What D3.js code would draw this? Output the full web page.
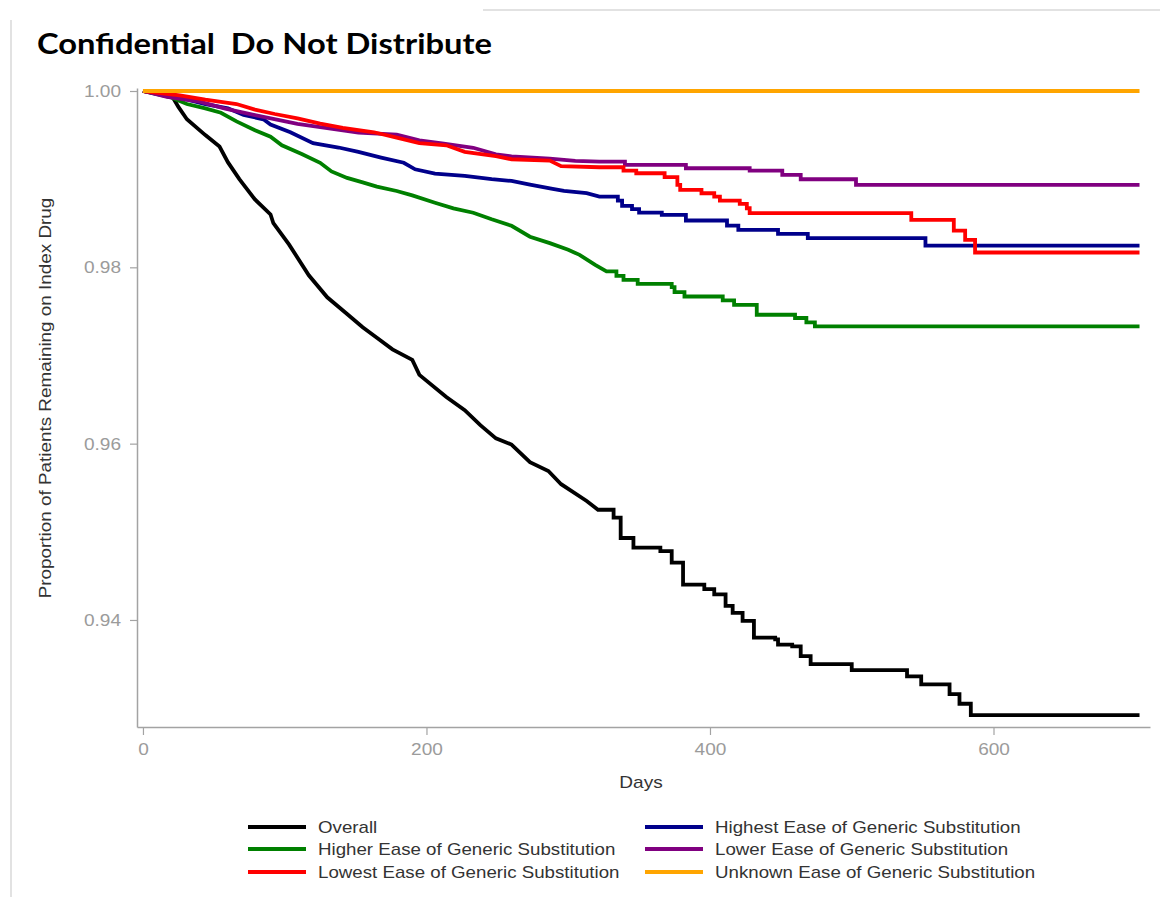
<!DOCTYPE html>
<html>
<head>
<meta charset="utf-8">
<script src="https://cdn.jsdelivr.net/npm/d3@7"></script>
<style>
  body { margin: 0; background: #fff; }
  svg { display: block; }
</style>
</head>
<body>
<svg id="chart" width="1160" height="897"></svg>
<script>
"use strict";

// Kaplan-Meier style curves, [day, proportion]
const overall = [[0,1.0000],[21,0.9993],[25,0.9982],[31,0.9968],[44,0.9950],[54,0.9937],[60,0.9919],[68,0.9900],[79,0.9877],[90,0.9860],[92,0.9850],[103,0.9826],[117,0.9791],[130,0.9766],[144,0.9747],[155,0.9732],[165,0.9720],[176,0.9707],[190,0.9695],[195,0.9678],[214,0.9653],[227,0.9638],[238,0.9621],[249,0.9606],[260,0.9599],[273,0.9579],[286,0.9569],[295,0.9554],[313,0.9535],[321,0.9525],[332,0.9516],[337,0.9493],[346,0.9482],[365,0.9478],[373,0.9465],[381,0.9440],[396,0.9435],[403,0.9429],[411,0.9416],[416,0.9408],[423,0.9399],[431,0.9380],[446,0.9378],[448,0.9372],[458,0.9370],[464,0.9359],[471,0.9350],[500,0.9343],[539,0.9336],[549,0.9327],[569,0.9316],[576,0.9305],[584,0.9292],[703,0.9292]];

const highest = [[0,1],[23,0.99936],[44,0.99852],[60,0.99803],[71,0.99729],[85,0.99679],[90,0.99620],[104,0.99531],[120,0.99408],[138,0.99359],[152,0.99310],[168,0.99245],[184,0.99186],[192,0.99112],[206,0.99063],[227,0.99038],[246,0.99000],[260,0.98980],[273,0.98939],[289,0.98890],[297,0.98866],[313,0.98841],[322,0.98803],[335,0.98757],[338,0.98697],[345,0.98659],[350,0.98621],[366,0.98595],[383,0.98531],[412,0.98474],[420,0.98425],[448,0.98380],[469,0.98331],[552,0.98247],[703,0.98247]];

const higher = [[0,1],[20,0.99926],[31,0.99852],[44,0.99803],[55,0.99753],[66,0.99655],[79,0.99556],[90,0.99482],[98,0.99384],[112,0.99285],[125,0.99186],[133,0.99088],[144,0.99014],[155,0.98964],[165,0.98915],[179,0.98866],[190,0.98816],[206,0.98732],[219,0.98668],[233,0.98619],[246,0.98545],[260,0.98471],[273,0.98347],[287,0.98274],[300,0.98200],[308,0.98141],[319,0.98027],[327,0.97953],[334,0.97904],[339,0.97858],[349,0.97813],[373,0.97775],[375,0.97719],[382,0.97669],[409,0.97624],[417,0.97575],[433,0.97462],[460,0.97425],[468,0.97375],[474,0.97330],[703,0.97330]];

const lower = [[0,1],[17,0.99933],[40,0.99880],[58,0.99800],[79,0.99726],[109,0.99628],[130,0.99580],[152,0.99529],[179,0.99504],[195,0.99440],[211,0.99406],[233,0.99356],[249,0.99282],[260,0.99258],[287,0.99233],[305,0.99208],[322,0.99199],[340,0.99161],[383,0.99124],[428,0.99097],[451,0.99048],[464,0.98999],[503,0.98935],[703,0.98935]];

const lowest = [[0,1],[26,0.99951],[44,0.99901],[66,0.99852],[79,0.99788],[93,0.99739],[109,0.99689],[125,0.99630],[141,0.99581],[163,0.99532],[179,0.99472],[195,0.99408],[214,0.99384],[227,0.99310],[249,0.99260],[260,0.99226],[287,0.99211],[295,0.99147],[322,0.99135],[339,0.99097],[348,0.99067],[368,0.99022],[377,0.98935],[379,0.98878],[394,0.98840],[403,0.98803],[407,0.98757],[421,0.98719],[426,0.98670],[428,0.98614],[542,0.98538],[572,0.98417],[580,0.98312],[587,0.98168],[703,0.98168]];

const unknown = [[0,1],[703,1]];

const seriesNames = ["Overall", "Highest Ease of Generic Substitution", "Higher Ease of Generic Substitution",
  "Lower Ease of Generic Substitution", "Lowest Ease of Generic Substitution", "Unknown Ease of Generic Substitution"];
const seriesColors = ["#000000", "#00008b", "#008000", "#800080", "#ff0000", "#ffa500"];
const seriesData = [overall, highest, higher, lower, lowest, unknown];

// legend is laid out in two columns, read down then across
const legendOrder = [0, 2, 4, 1, 3, 5];

const xTicks = [0, 200, 400, 600];
const yTicks = [0.94, 0.96, 0.98, 1.00];

// early events are dense (draw straight), later ones are distinct steps
const stepFrom = 330;

const svg = d3.select("#chart"),
  font = "'Liberation Sans', Arial, sans-serif",
  axisGray = "#a3a3a3",
  textGray = "#9b9b9b";

// make the text a bit wider than the font, like the source picture
function stretch(sel, k) {
  sel.each(function() {
    let w = this.getComputedTextLength();
    d3.select(this).attr("textLength", w * k).attr("lengthAdjust", "spacingAndGlyphs");
  });
}

// add the corner of each step once the events get sparse
function withSteps(pts) {
  let out = [pts[0]];
  for (let i = 1; i < pts.length; i++) {
    if (pts[i][0] > stepFrom) out.push([pts[i][0], pts[i - 1][1]]);
    out.push(pts[i]);
  }
  return out;
}

// screenshot frame remnants
svg.append("line").attr("x1", 11).attr("x2", 11).attr("y1", 20).attr("y2", 897)
  .attr("stroke", "#d9d9d9").attr("stroke-width", 1.5);
svg.append("line").attr("x1", 483).attr("x2", 1160).attr("y1", 10).attr("y2", 10)
  .attr("stroke", "#d9d9d9").attr("stroke-width", 1.5);

svg.append("text")
  .attr("x", 37).attr("y", 54)
  .style("white-space", "pre")
  .attr("font-family", "Lato, 'Open Sans', sans-serif")
  .attr("font-weight", "bold")
  .attr("font-size", 28)
  .attr("fill", "#000")
  .attr("textLength", 455).attr("lengthAdjust", "spacingAndGlyphs")
  .text("Confidential  Do Not Distribute");

let x = d3.scaleLinear().domain([-4.2, 710.4]).range([137, 1150]),
  y = d3.scaleLinear().domain([0.92786, 1.00034]).range([727, 88]);

let gx = svg.append("g")
  .attr("transform", "translate(0,727)")
  .call(d3.axisBottom(x).tickValues(xTicks).tickSize(8).tickSizeOuter(0).tickPadding(8).tickFormat(d3.format("d")));

let gy = svg.append("g")
  .attr("transform", "translate(137,0)")
  .call(d3.axisLeft(y).tickValues(yTicks).tickSize(7).tickSizeOuter(0).tickPadding(9).tickFormat(d3.format(".2f")));

[gx, gy].forEach(g => {
  g.select(".domain").attr("stroke", axisGray).attr("stroke-width", 1.5);
  g.selectAll(".tick line").attr("stroke", axisGray).attr("stroke-width", 1.2);
  g.selectAll(".tick text").attr("fill", textGray).attr("font-family", font).attr("font-size", 17);
  g.attr("font-family", null).attr("font-size", null);
});
stretch(gx.selectAll(".tick text"), 1.12);
stretch(gy.selectAll(".tick text"), 1.12);

let xLabel = svg.append("text")
  .attr("x", 641).attr("y", 788)
  .attr("text-anchor", "middle")
  .attr("font-family", font).attr("font-size", 17).attr("fill", "#333")
  .text("Days");
stretch(xLabel, 1.12);

let yLabel = svg.append("text")
  .attr("transform", "translate(51,398) rotate(-90)")
  .attr("text-anchor", "middle")
  .attr("font-family", font).attr("font-size", 17).attr("fill", "#333")
  .text("Proportion of Patients Remaining on Index Drug");
stretch(yLabel, 1.11);

let line = d3.line()
  .x(d => x(d[0]))
  .y(d => y(d[1]));

svg.append("g")
  .selectAll("path")
  .data(seriesData)
  .enter().append("path")
  .attr("d", d => line(withSteps(d)))
  .attr("fill", "none")
  .attr("stroke", (d, i) => seriesColors[i])
  .attr("stroke-width", 3.8)
  .attr("stroke-linejoin", "miter");

// legend
let legend = svg.append("g"),
  colX = [248, 645],
  rowY = [827, 849, 872];

legendOrder.forEach((si, k) => {
  let col = Math.floor(k / 3), row = k % 3,
    item = legend.append("g").attr("transform", "translate(" + colX[col] + "," + rowY[row] + ")");
  item.append("line")
    .attr("x1", 0).attr("x2", 58).attr("y1", 0).attr("y2", 0)
    .attr("stroke", seriesColors[si]).attr("stroke-width", 4);
  let t = item.append("text")
    .attr("x", 70).attr("y", 0).attr("dy", "0.35em")
    .attr("font-family", font).attr("font-size", 17).attr("fill", "#333")
    .text(seriesNames[si]);
  stretch(t, 1.10);
});
</script>
</body>
</html>
